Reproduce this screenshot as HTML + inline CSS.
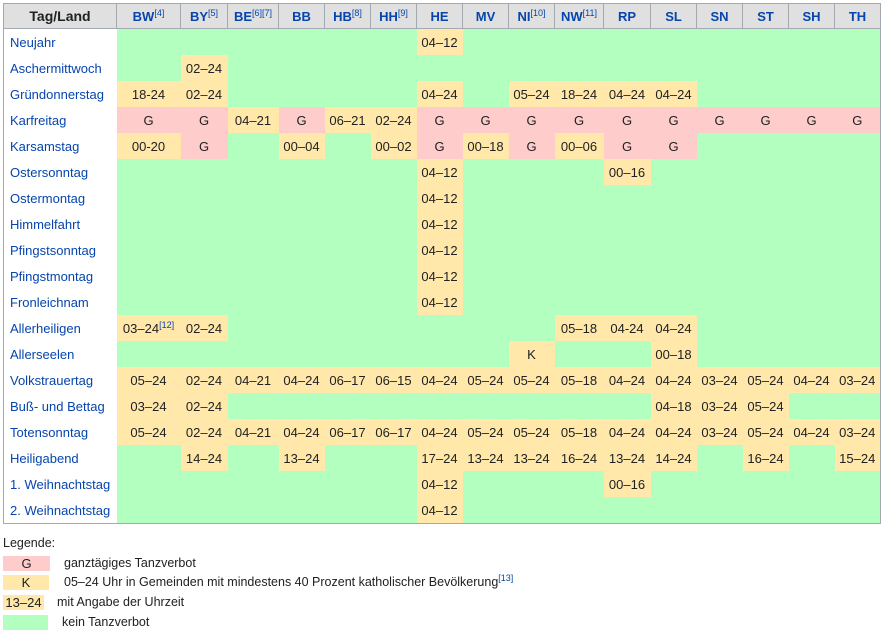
<!DOCTYPE html>
<html><head><meta charset="utf-8">
<style>
body{margin:0;width:887px;height:633px;background:#fff;font-family:"Liberation Sans",sans-serif;font-size:13px;color:#202122;overflow:hidden;position:relative}
table{position:absolute;left:3px;top:3px;border-collapse:collapse;table-layout:fixed;border:1px solid #a2a9b1}
th{background:#e0e0e0;border:1px solid #a2a9b1;height:24px;padding:0;font-weight:bold;color:#0645ad;font-size:13px}
th.f{color:#202122;font-size:14px}
td{height:26px;padding:0;text-align:center;background:#b3ffc0;white-space:nowrap}
td.l{text-align:left;padding-left:6px;background:#ffffff;color:#0645ad}
td.g{background:#ffcccc}
td.y{background:#ffe8aa}
sup{font-size:9px;font-weight:normal;vertical-align:5px;line-height:0}
.lg{position:absolute;left:3px;font-size:12.5px}
.sw{position:absolute;left:3px;height:15px;text-align:center;font-size:13px;line-height:15px}
</style></head><body>
<table><colgroup id="cg"></colgroup><thead><tr id="hr"></tr></thead><tbody id="tb"></tbody></table>
<div class="lg" style="top:536px">Legende:</div>
<div class="sw" style="top:556px;width:47px;background:#ffcccc">G</div>
<div class="lg" style="left:64px;top:556px">ganztägiges Tanzverbot</div>
<div class="sw" style="top:575px;width:46px;background:#ffe8aa">K</div>
<div class="lg" style="left:64px;top:575px">05–24 Uhr in Gemeinden mit mindestens 40 Prozent katholischer Bevölkerung<sup style="color:#0645ad">[13]</sup></div>
<div class="sw" style="top:595px;width:41px;background:#ffe8aa">13–24</div>
<div class="lg" style="left:57px;top:595px">mit Angabe der Uhrzeit</div>
<div class="sw" style="top:615px;width:45px;background:#b3ffc0"></div>
<div class="lg" style="left:62px;top:615px">kein Tanzverbot</div>
<script>
const headers=["Tag/Land","BW<sup>[4]</sup>","BY<sup>[5]</sup>","BE<sup>[6][7]</sup>","BB","HB<sup>[8]</sup>","HH<sup>[9]</sup>","HE","MV","NI<sup>[10]</sup>","NW<sup>[11]</sup>","RP","SL","SN","ST","SH","TH"];
const colW=[113,64,47,51,46,46,46,46,46,46,49,47,46,46,46,46,46];
const days=["Neujahr","Aschermittwoch","Gründonnerstag","Karfreitag","Karsamstag","Ostersonntag","Ostermontag","Himmelfahrt","Pfingstsonntag","Pfingstmontag","Fronleichnam","Allerheiligen","Allerseelen","Volkstrauertag","Buß- und Bettag","Totensonntag","Heiligabend","1. Weihnachtstag","2. Weihnachtstag"];
const E="";
const values=[
[E,E,E,E,E,E,"04–12",E,E,E,E,E,E,E,E,E],
[E,"02–24",E,E,E,E,E,E,E,E,E,E,E,E,E,E],
["18-24","02–24",E,E,E,E,"04–24",E,"05–24","18–24","04–24","04–24",E,E,E,E],
["G","G","04–21","G","06–21","02–24","G","G","G","G","G","G","G","G","G","G"],
["00-20","G",E,"00–04",E,"00–02","G","00–18","G","00–06","G","G",E,E,E,E],
[E,E,E,E,E,E,"04–12",E,E,E,"00–16",E,E,E,E,E],
[E,E,E,E,E,E,"04–12",E,E,E,E,E,E,E,E,E],
[E,E,E,E,E,E,"04–12",E,E,E,E,E,E,E,E,E],
[E,E,E,E,E,E,"04–12",E,E,E,E,E,E,E,E,E],
[E,E,E,E,E,E,"04–12",E,E,E,E,E,E,E,E,E],
[E,E,E,E,E,E,"04–12",E,E,E,E,E,E,E,E,E],
["03–24[12]","02–24",E,E,E,E,E,E,E,"05–18","04-24","04–24",E,E,E,E],
[E,E,E,E,E,E,E,E,"K",E,E,"00–18",E,E,E,E],
["05–24","02–24","04–21","04–24","06–17","06–15","04–24","05–24","05–24","05–18","04–24","04–24","03–24","05–24","04–24","03–24"],
["03–24","02–24",E,E,E,E,E,E,E,E,E,"04–18","03–24","05–24",E,E],
["05–24","02–24","04–21","04–24","06–17","06–17","04–24","05–24","05–24","05–18","04–24","04–24","03–24","05–24","04–24","03–24"],
[E,"14–24",E,"13–24",E,E,"17–24","13–24","13–24","16–24","13–24","14–24",E,"16–24",E,"15–24"],
[E,E,E,E,E,E,"04–12",E,E,E,"00–16",E,E,E,E,E],
[E,E,E,E,E,E,"04–12",E,E,E,E,E,E,E,E,E]
];
const cg=document.getElementById('cg');
colW.forEach(w=>{const c=document.createElement('col');c.style.width=w+'px';cg.appendChild(c);});
const hr=document.getElementById('hr');
headers.forEach((h,i)=>{const th=document.createElement('th');th.innerHTML=h;if(i==0)th.className='f';


hr.appendChild(th);});
const tb=document.getElementById('tb');
days.forEach((d,r)=>{const tr=document.createElement('tr');


const l=document.createElement('td');l.className='l';l.textContent=d;


tr.appendChild(l);
values[r].forEach(v=>{const td=document.createElement('td');
if(v==='G')td.className='g';else if(v!=='')td.className='y';
const m=v.match(/^(.*)\[(\d+)\]$/);
if(m){td.innerHTML=m[1]+'<sup style="color:#0645ad">['+m[2]+']</sup>';}else td.textContent=v;


tr.appendChild(td);});
tb.appendChild(tr);});
</script>
</body></html>
